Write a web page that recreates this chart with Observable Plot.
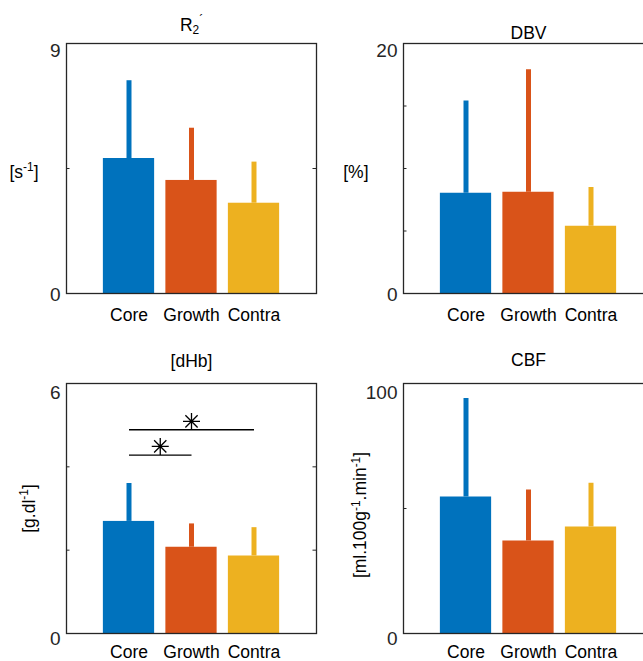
<!DOCTYPE html>
<html><head><meta charset="utf-8">
<script src="https://cdn.jsdelivr.net/npm/d3@7"></script>
<script src="https://cdn.jsdelivr.net/npm/@observablehq/plot@0.6"></script>
<style>
html,body{margin:0;padding:0;background:#fff;overflow:hidden;}
#fig{position:relative;width:643px;height:661px;overflow:hidden;background:#fff;}
#fig > svg{position:absolute;}
</style></head><body><div id="fig"></div>
<script>
// ---- data ----
const categories = ["Core", "Growth", "Contra"];
const colors = ["#0072BD", "#D95319", "#EDB120"];

const r2Mean  = [4.86, 4.07, 3.25];
const r2Upper = [7.66, 5.95, 4.73];
const dbvMean  = [8.02, 8.10, 5.38];
const dbvUpper = [15.4, 17.9, 8.48];
const dhbMean  = [2.69, 2.07, 1.86];
const dhbUpper = [3.60, 2.63, 2.54];
const cbfMean  = [54.6, 37.0, 42.6];
const cbfUpper = [94.0, 57.4, 60.1];

const r2Ticks  = [0, 4.5, 9];
const dbvTicks = [0, 5, 10, 15, 20];
const dhbTicks = [0, 2, 4, 6];
const cbfTicks = [0, 50, 100];

const sigFrom  = ["Core", "Core"];
const sigTo    = ["Growth", "Contra"];
const sigLevel = [4.28, 4.89];
const sigStar  = [4.49, 5.09];

// ---- layout / style ----
const F = 17.5;       // label font size
const FT = 19;        // tick label font size
const FW = 250, FH = 250;
const INK = "#262626";
const FONT = "'Liberation Sans', Arial, Helvetica, sans-serif";
const pos = c => categories.indexOf(c) + 1;

const asterisk = {
  draw(ctx, size) {
    const r = Math.sqrt(size / Math.PI), d = r * 0.72;
    ctx.moveTo(-r, 0); ctx.lineTo(r, 0);
    ctx.moveTo(0, -r); ctx.lineTo(0, r);
    ctx.moveTo(-d, -d); ctx.lineTo(d, d);
    ctx.moveTo(-d, d); ctx.lineTo(d, -d);
  }
};

const panels = [
  {title: "R_{2}^{´}", titleDy: -13, unit: "[s^{-1}]", rot: false, unitDx: -28, unitDy: 3.5,
   mean: r2Mean, upper: r2Upper, ticks: r2Ticks, left: 0, top: 0, w: 330, h: 330, fx: 66, fy: 43, topDy: 7, botDy: 1.5, catDy: 27, sig: false},
  {title: "DBV", titleDy: -5, unit: "[%]", rot: false, unitDx: -35, unitDy: 4,
   mean: dbvMean, upper: dbvUpper, ticks: dbvTicks, left: 320, top: 0, w: 340, h: 330, fx: 403, fy: 43, topDy: 7.5, botDy: 1, catDy: 27, sig: false},
  {title: "[dHb]", titleDy: -17, unit: "[g.dl^{-1}]", rot: true, unitDx: -37.5, unitDy: 0,
   mean: dhbMean, upper: dhbUpper, ticks: dhbTicks, left: 0, top: 330, w: 330, h: 331, fx: 66, fy: 383, topDy: 9, botDy: 5, catDy: 24.5, sig: true},
  {title: "CBF", titleDy: -17.5, unit: "[ml.100g^{-1}.min^{-1}]", rot: true, unitDx: -43, unitDy: 6.5,
   mean: cbfMean, upper: cbfUpper, ticks: cbfTicks, left: 320, top: 330, w: 340, h: 331, fx: 403, fy: 383, topDy: 9, botDy: 5, catDy: 24.5, sig: false}
];

function richify(svg) {
  d3.select(svg).selectAll("text").each(function() {
    const s = this.textContent;
    if (!/[\^_]\{/.test(s)) return;
    const parts = s.split(/(\^\{[^}]*\}|_\{[^}]*\})/).filter(p => p !== "");
    this.textContent = "";
    let cur = 0;
    for (const p of parts) {
      let t = 0, txt = p, small = false;
      if (p.startsWith("^{")) { t = -0.36 * F; txt = p.slice(2, -1); small = true; }
      else if (p.startsWith("_{")) { t = 0.2 * F; txt = p.slice(2, -1); small = true; }
      const ts = d3.select(this).append("tspan").text(txt);
      if (t - cur !== 0) ts.attr("dy", t - cur);
      if (small) ts.attr("font-size", 0.68 * F);
      cur = t;
    }
  });
}

const fig = document.getElementById("fig");

for (const p of panels) {
  const data = categories.map((c, i) => ({cat: c, pos: i + 1, mean: p.mean[i], upper: p.upper[i], color: colors[i]}));
  const yMax = p.ticks[p.ticks.length - 1];
  const marks = [
    Plot.rect(data, {x1: d => d.pos - 0.41, x2: d => d.pos + 0.41, y1: 0, y2: "mean", fill: "color"}),
    Plot.ruleX(data, {x: "pos", y1: "mean", y2: "upper", stroke: "color", strokeWidth: 5}),
    Plot.tickY(p.ticks, {y: d => d, insetRight: FW - 3.5, stroke: INK, strokeWidth: 1}),
    Plot.tickY(p.ticks, {y: d => d, insetLeft: FW - 3.5, stroke: INK, strokeWidth: 1}),
    Plot.frame({stroke: INK, strokeWidth: 1.3}),
    Plot.text([0], {y: d => d, text: d => String(d), frameAnchor: "left", textAnchor: "end", lineAnchor: "middle", dx: -6, dy: p.botDy, fill: INK, fontSize: FT}),
    Plot.text([yMax], {y: d => d, text: d => String(d), frameAnchor: "left", textAnchor: "end", lineAnchor: "middle", dx: -6, dy: p.topDy, fill: INK, fontSize: FT}),
    Plot.text(data, {x: "pos", text: "cat", frameAnchor: "bottom", lineAnchor: "bottom", dy: p.catDy, fill: "#000"}),
    Plot.text([p.title], {text: d => d, frameAnchor: "top", lineAnchor: "bottom", dy: p.titleDy, fill: "#000"}),
    p.rot
      ? Plot.text([p.unit], {text: d => d, frameAnchor: "left", textAnchor: "middle", lineAnchor: "middle", rotate: -90, dx: p.unitDx, dy: p.unitDy, fill: "#000"})
      : Plot.text([p.unit], {text: d => d, frameAnchor: "left", textAnchor: "end", lineAnchor: "middle", dx: p.unitDx, dy: p.unitDy, fill: "#000"})
  ];
  if (p.sig) {
    const sig = sigFrom.map((f, i) => ({x1: pos(f), x2: pos(sigTo[i]), level: sigLevel[i], star: sigStar[i]}));
    marks.push(Plot.link(sig, {x1: "x1", x2: "x2", y1: "level", y2: "level", stroke: "#000", strokeWidth: 1.3}));
    marks.push(Plot.dot(sig, {x: d => (d.x1 + d.x2) / 2, y: "star", symbol: asterisk, r: 8.5, stroke: "#000", fill: "none", strokeWidth: 1.3}));
  }
  const svg = Plot.plot({
    width: p.w, height: p.h,
    marginLeft: p.fx - p.left, marginRight: p.w - (p.fx - p.left) - FW,
    marginTop: p.fy - p.top, marginBottom: p.h - (p.fy - p.top) - FH,
    x: {domain: [0, 4], axis: null},
    y: {domain: [0, yMax], axis: null},
    color: {type: "identity"},
    style: {fontFamily: FONT, fontSize: F + "px", background: "transparent", overflow: "visible"},
    marks
  });
  richify(svg);
  svg.style.left = p.left + "px";
  svg.style.top = p.top + "px";
  fig.appendChild(svg);
}
</script></body></html>
